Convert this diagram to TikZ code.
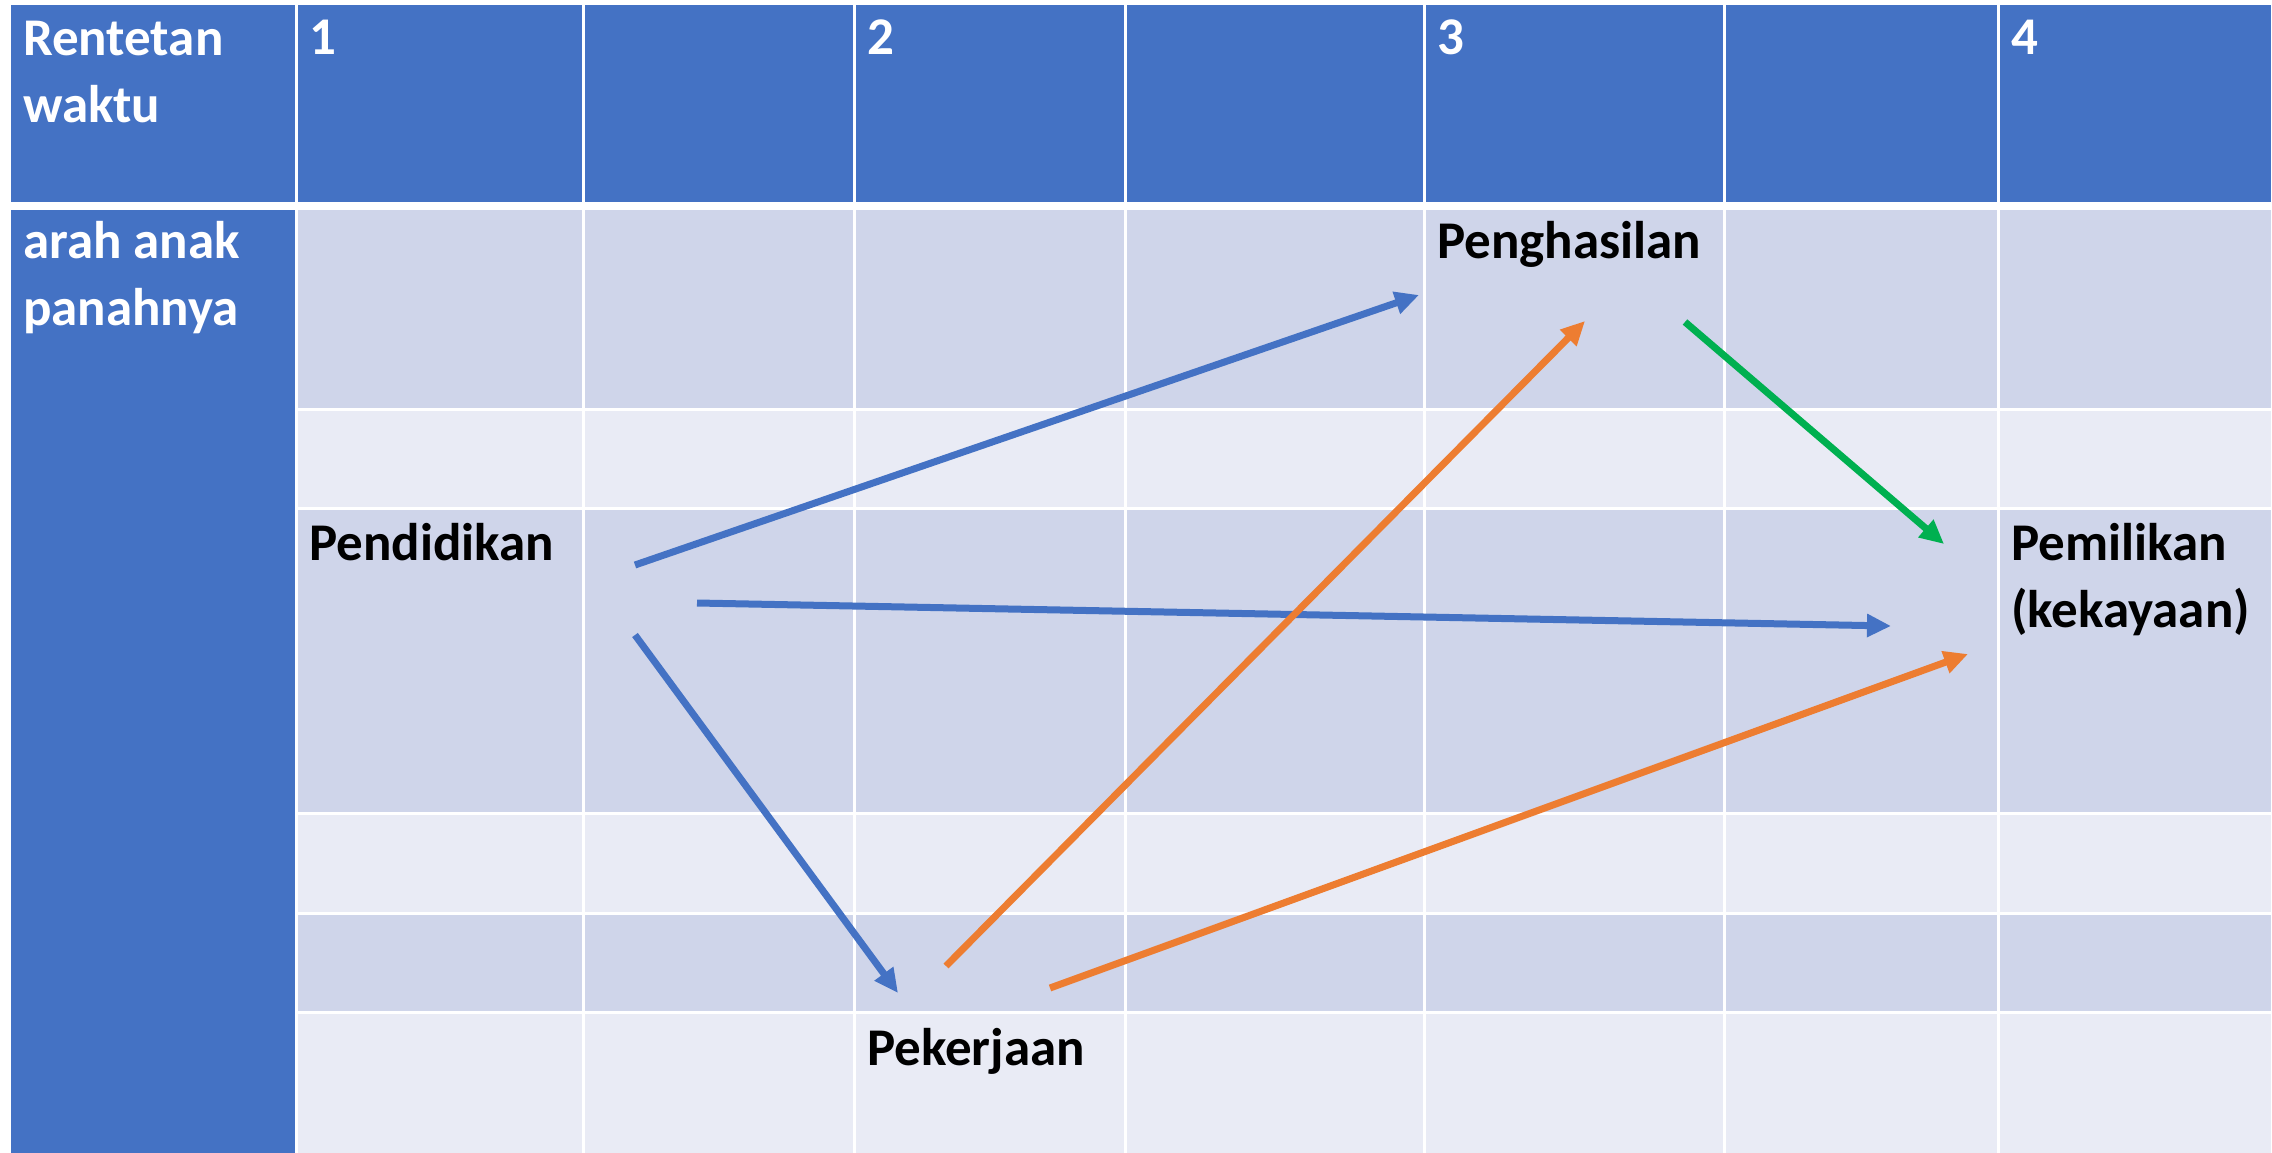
\documentclass[tikz,border=0pt]{standalone}
\usepackage{fontspec}
\setmainfont{Carlito}
\usetikzlibrary{arrows.meta}

\definecolor{hdrblue}{HTML}{4472C4}
\definecolor{banddark}{HTML}{CFD5EA}
\definecolor{bandlight}{HTML}{E9EBF5}
\definecolor{arrblue}{HTML}{4472C4}
\definecolor{arrorange}{HTML}{ED7D31}
\definecolor{arrgreen}{HTML}{00B050}

\tikzset{
  cellhead/.style={fill=hdrblue},
  celldark/.style={fill=banddark},
  celllight/.style={fill=bandlight},
  headtext/.style={anchor=base west, inner sep=0pt, text=white, align=left,
    font=\fontsize{53}{67}\selectfont\bfseries},
  bodytext/.style={anchor=base west, inner sep=0pt, text=black, align=left,
    font=\fontsize{53}{67}\selectfont\bfseries},
  flow/.style={line width=7pt, -{Triangle[length=24pt, width=22pt]}},
}

\begin{document}
\begin{tikzpicture}[x=1pt, y=-1pt]
  \useasboundingbox (0,0) rectangle (2272,1153);
  \fill[white] (0,0) rectangle (2272,1153);

  % column edges (left, right) of the eight columns
  \def\colL{{11,297.5,585,856,1127,1426,1725.5,2000}}
  \def\colR{{294.5,582,853,1124,1423,1722.5,1997,2271}}

  % header row
  \foreach \i in {0,...,7}{
    \pgfmathsetmacro{\xa}{\colL[\i]}
    \pgfmathsetmacro{\xb}{\colR[\i]}
    \fill[cellhead] (\xa,5) rectangle (\xb,202);
  }

  % merged first column of the body
  \fill[cellhead] (11,210) rectangle (294.5,1153);

  % banded body rows
  \foreach \ya/\yb/\sty in {210/408/celldark, 411/506.5/celllight,
      509.5/812/celldark, 815/911.5/celllight,
      914.5/1011/celldark, 1014/1153/celllight}{
    \foreach \i in {1,...,7}{
      \pgfmathsetmacro{\xa}{\colL[\i]}
      \pgfmathsetmacro{\xb}{\colR[\i]}
      \fill[\sty] (\xa,\ya) rectangle (\xb,\yb);
    }
  }

  % header texts (two-line nodes are placed by their last baseline)
  \node[headtext] (hdr)   at (23,123)    {Rentetan\\waktu};
  \node[headtext] (t1)    at (309,55)    {1};
  \node[headtext] (t2)    at (867,55)    {2};
  \node[headtext] (t3)    at (1437,55)   {3};
  \node[headtext] (t4)    at (2011,55)   {4};
  \node[headtext] (side)  at (23,325)    {arah anak\\panahnya};

  % stage labels
  \node[bodytext] (income)  at (1437,258)  {Penghasilan};
  \node[bodytext] (edu)     at (309,560)   {Pendidikan};
  \node[bodytext] (wealth)  at (2011,627)  {Pemilikan\\(kekayaan)};
  \node[bodytext] (job)     at (867,1065)  {Pekerjaan};

  % arrow end points
  \coordinate (eduA)    at (635,565);
  \coordinate (eduB)    at (697,603);
  \coordinate (eduC)    at (635,635);
  \coordinate (incIn1)  at (1419,295);
  \coordinate (incIn2)  at (1585,321);
  \coordinate (incOut)  at (1685,322);
  \coordinate (wlthIn1) at (1944,544);
  \coordinate (wlthIn2) at (1891,626);
  \coordinate (wlthIn3) at (1968,654);
  \coordinate (jobIn)   at (898,993);
  \coordinate (jobOut1) at (946,966);
  \coordinate (jobOut2) at (1050,988);

  % connectors from Pendidikan
  \draw[flow, arrblue] (eduA) -- (incIn1);
  \draw[flow, arrblue] (eduB) -- (wlthIn2);
  \draw[flow, arrblue] (eduC) -- (jobIn);

  % connectors from Pekerjaan
  \draw[flow, arrorange] (jobOut1) -- (incIn2);
  \draw[flow, arrorange] (jobOut2) -- (wlthIn3);

  % connector from Penghasilan
  \draw[flow, arrgreen] (incOut) -- (wlthIn1);
\end{tikzpicture}
\end{document}
